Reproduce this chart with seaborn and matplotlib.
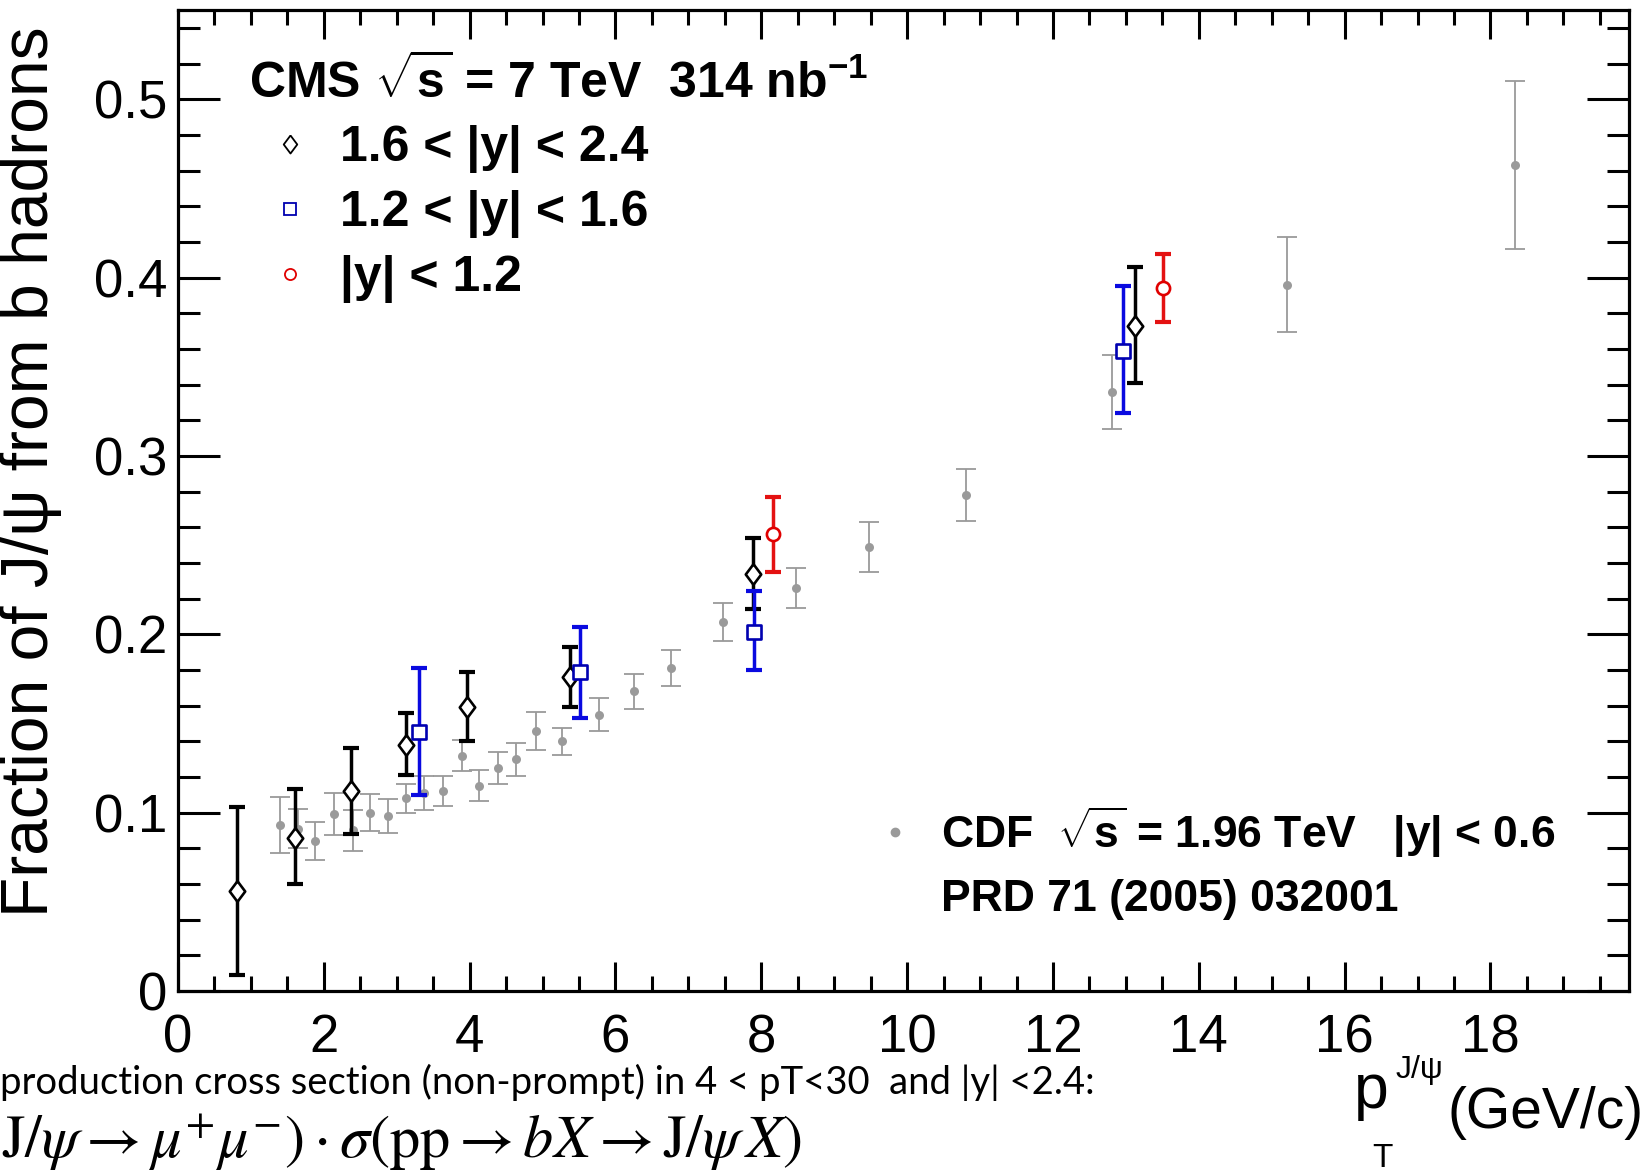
import numpy as np
import pandas as pd
import matplotlib
matplotlib.use("Agg")
import matplotlib.pyplot as plt
import seaborn as sns
from matplotlib.ticker import MultipleLocator, FuncFormatter
from matplotlib.lines import Line2D
from matplotlib.markers import MarkerStyle

# ---------------- data ----------------
# CMS 1.6 < |y| < 2.4  (open black diamonds)
fwd_x  = [0.81, 1.61, 2.37, 3.13, 3.97, 5.37, 7.88, 13.12]
fwd_y  = [0.056, 0.086, 0.112, 0.138, 0.159, 0.176, 0.234, 0.373]
fwd_lo = [0.009, 0.060, 0.088, 0.121, 0.140, 0.159, 0.214, 0.341]
fwd_hi = [0.103, 0.113, 0.136, 0.156, 0.179, 0.193, 0.254, 0.406]

# CMS 1.2 < |y| < 1.6  (open blue squares)
mid_x  = [3.30, 5.51, 7.90, 12.96]
mid_y  = [0.145, 0.179, 0.201, 0.359]
mid_lo = [0.110, 0.153, 0.180, 0.324]
mid_hi = [0.181, 0.204, 0.224, 0.395]

# CMS |y| < 1.2  (open red circles)
cen_x  = [8.16, 13.51]
cen_y  = [0.256, 0.394]
cen_lo = [0.235, 0.375]
cen_hi = [0.277, 0.413]

# CDF sqrt(s)=1.96 TeV |y|<0.6 (grey dots)
cdf_x = [1.40, 1.65, 1.88, 2.14, 2.40, 2.63, 2.88, 3.13, 3.38, 3.64, 3.89, 4.13, 4.39,
         4.64, 4.91, 5.26, 5.77, 6.26, 6.76, 7.47, 8.48, 9.48, 10.81, 12.81, 15.21, 18.33]
cdf_y = [0.093, 0.091, 0.084, 0.099, 0.090, 0.100, 0.098, 0.108, 0.111, 0.112, 0.132, 0.115, 0.125,
         0.130, 0.146, 0.140, 0.155, 0.168, 0.181, 0.207, 0.226, 0.249, 0.278, 0.336, 0.396, 0.463]
cdf_err = [0.0155, 0.011, 0.0107, 0.0118, 0.0113, 0.0104, 0.0096, 0.0083, 0.0095, 0.0083, 0.0088, 0.0087, 0.0092,
           0.0092, 0.0107, 0.0077, 0.0092, 0.010, 0.010, 0.0108, 0.0112, 0.014, 0.0147, 0.0208, 0.0267, 0.0472]

x_ticks = [0, 2, 4, 6, 8, 10, 12, 14, 16, 18]
y_ticks = [0, 0.1, 0.2, 0.3, 0.4, 0.5]

lab_fwd = "1.6 < |y| < 2.4"
lab_mid = "1.2 < |y| < 1.6"
lab_cen = "|y| < 1.2"
cms_title = r"CMS $\sqrt{\mathbf{s}}$ = 7 TeV  314 nb$^{\mathbf{-1}}$"
cdf_label = r"CDF  $\sqrt{\mathbf{s}}$ = 1.96 TeV   |y| < 0.6"
cdf_ref = "PRD 71 (2005) 032001"
y_label = "Fraction of J/ψ from b hadrons"
x_label_main = "p"
x_label_sup = "J/ψ"
x_label_sub = "T"
x_label_unit = "(GeV/c)"
slide_line = "production cross section (non-prompt) in 4 < pT<30  and |y| <2.4:"
slide_formula = r"$\mathrm{J}/\psi \rightarrow \mu^{+}\mu^{-})\cdot\sigma(\mathrm{pp} \rightarrow bX \rightarrow \mathrm{J}/\psi\, X)$"

# ---------------- style ----------------
sns.set_theme(style="ticks")
plt.rcParams.update({
    "font.family": ["Liberation Sans", "DejaVu Sans"],
    "mathtext.fontset": "custom",
    "mathtext.rm": "Liberation Sans",
    "mathtext.bf": "Liberation Sans:bold",
    "mathtext.it": "Liberation Sans:italic",
    "mathtext.sf": "Liberation Sans",
    "text.color": "black",
    "axes.labelcolor": "black",
    "xtick.color": "black",
    "ytick.color": "black",
    "axes.edgecolor": "black",
    "axes.linewidth": 2.3,
    "figure.facecolor": "white",
    "axes.facecolor": "white",
})

W, H = 1646, 1171
fig = plt.figure(figsize=(W / 100, H / 100), dpi=100)
L, R, T, B = 178, 1629, 10, 991
ax = fig.add_axes([L / W, 1 - B / H, (R - L) / W, (B - T) / H])

diamond = MarkerStyle([(0, 1), (0.75, 0), (0, -1), (-0.75, 0), (0, 1)])

BLACK = "#000000"
BLUE_BAR = "#0a0ae0"
BLUE_MK = "#0000b0"
RED_BAR = "#e41212"
RED_MK = "#e00000"
GREY = "#9a9a9a"

# CDF
cdf_df = pd.DataFrame({"x": cdf_x, "y": cdf_y, "e": cdf_err})
ax.errorbar(cdf_df["x"], cdf_df["y"], yerr=cdf_df["e"], fmt="none", ecolor=GREY,
            elinewidth=1.3, capsize=7, capthick=1.3, zorder=2)
sns.scatterplot(data=cdf_df, x="x", y="y", marker="o", s=42, color=GREY,
                edgecolor=GREY, linewidth=0, ax=ax, zorder=3, legend=False)


def cms_series(xs, ys, lo, hi, bar_color, mk_color, marker, size):
    d = pd.DataFrame({"x": xs, "y": ys, "lo": lo, "hi": hi})
    ax.errorbar(d["x"], d["y"], yerr=[d["y"] - d["lo"], d["hi"] - d["y"]], fmt="none",
                ecolor=bar_color, elinewidth=2.5, capsize=5.5, capthick=3.0, zorder=4)
    sns.scatterplot(data=d, x="x", y="y", marker=marker, s=size, color="white",
                    edgecolor=mk_color, linewidth=1.9, ax=ax, zorder=5, legend=False)


cms_series(fwd_x, fwd_y, fwd_lo, fwd_hi, BLACK, BLACK, diamond, 220)
cms_series(mid_x, mid_y, mid_lo, mid_hi, BLUE_BAR, BLUE_MK, "s", 100)
cms_series(cen_x, cen_y, cen_lo, cen_hi, RED_BAR, RED_MK, "o", 90)

# axes
ax.set_xlim(0, 19.9)
ax.set_ylim(0, 0.55)
ax.set_xticks(x_ticks)
ax.set_yticks(y_ticks)
ax.xaxis.set_minor_locator(MultipleLocator(0.5))
ax.yaxis.set_minor_locator(MultipleLocator(0.02))
ax.yaxis.set_major_formatter(FuncFormatter(lambda v, p: "0" if abs(v) < 1e-9 else f"{v:.1f}"))
ax.xaxis.set_major_formatter(FuncFormatter(lambda v, p: f"{v:g}"))
ax.set_xlabel("")
ax.set_ylabel("")
for s in ax.spines.values():
    s.set_visible(True)
    s.set_linewidth(2.3)
ax.tick_params(axis="both", which="both", direction="in", top=True, right=True,
               width=2.2, labelsize=38)
ax.tick_params(axis="y", which="major", length=30, pad=8)
ax.tick_params(axis="y", which="minor", length=15.5)
ax.tick_params(axis="x", which="major", length=21, pad=16)
ax.tick_params(axis="x", which="minor", length=10.5)

# legends
bold36 = {"family": "Liberation Sans", "weight": "bold", "size": 36}
h_fwd = Line2D([], [], ls="none", marker=diamond, ms=13, mfc="white", mec=BLACK, mew=1.3)
h_mid = Line2D([], [], ls="none", marker="s", ms=8.5, mfc="white", mec=BLUE_MK, mew=1.3)
h_cen = Line2D([], [], ls="none", marker="o", ms=8, mfc="white", mec=RED_MK, mew=1.3)
leg1 = ax.legend(handles=[h_fwd, h_mid, h_cen], labels=[lab_fwd, lab_mid, lab_cen],
                 title=cms_title, title_fontproperties=bold36, prop=bold36,
                 loc="upper left", bbox_to_anchor=(249 / W, 1 - 56 / H),
                 bbox_transform=fig.transFigure, frameon=False, alignment="left",
                 handlelength=1.64, handletextpad=0.18, labelspacing=0.34,
                 borderpad=0, borderaxespad=0)
ax.add_artist(leg1)

bold32 = {"family": "Liberation Sans", "weight": "bold", "size": 32}
h_cdf = Line2D([], [], ls="none", marker="o", ms=6, mfc=GREY, mec=GREY)
h_none = Line2D([], [], ls="none", marker=None)
leg2 = ax.legend(handles=[h_cdf, h_none], labels=[cdf_label, cdf_ref], prop=bold32,
                 loc="upper left", bbox_to_anchor=(880 / W, 1 - 804 / H),
                 bbox_transform=fig.transFigure, frameon=False,
                 handlelength=0.68, handletextpad=0.7, labelspacing=0.43,
                 borderpad=0, borderaxespad=0)

# axis titles (ROOT-style placement)
fig.text(31 / W, 1 - 472 / H, y_label, rotation=90, ha="center", va="center",
         fontsize=47.5, family=["Liberation Sans", "DejaVu Sans"])
fig.text(1354 / W, 1 - 1108 / H, x_label_main, ha="left", va="baseline", fontsize=45)
fig.text(1396 / W, 1 - 1078 / H, x_label_sup, ha="left", va="baseline", fontsize=23)
fig.text(1372 / W, 1 - 1167 / H, x_label_sub, ha="left", va="baseline", fontsize=24)
fig.text(1644 / W, 1 - 1128 / H, x_label_unit, ha="right", va="baseline", fontsize=41)

# slide text below the plot
fig.text(0 / W, 1 - 1094 / H, slide_line, ha="left", va="baseline", fontsize=27.5,
         family=["Lato", "DejaVu Sans"])
fig.text(2 / W, 1 - 1158 / H, slide_formula, ha="left", va="baseline", fontsize=43.5,
         math_fontfamily="stix")

fig.savefig("out.png", dpi=100)
